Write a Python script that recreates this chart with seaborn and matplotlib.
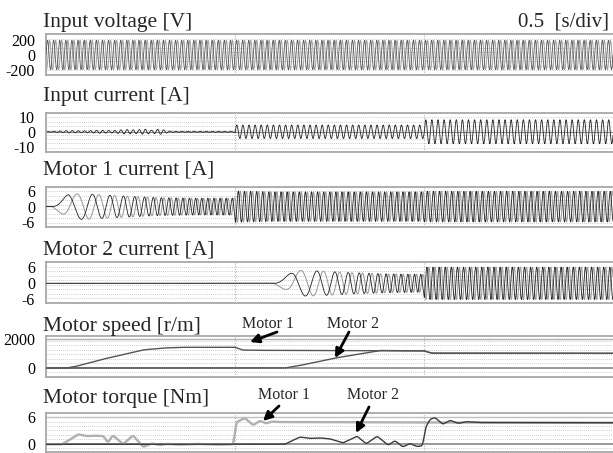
import numpy as np
import pandas as pd
import matplotlib
matplotlib.use("Agg")
import matplotlib.pyplot as plt
import seaborn as sns

sns.set_theme(style="white")
plt.rcParams["font.family"] = ["Liberation Serif", "DejaVu Serif"]

W, H = 613, 453
T_END = 1.5          # 3 divisions x 0.5 s/div
LINE_HZ = 62.0       # carrier frequency (visual density)

# ---------------- values ----------------
volt_amp = 195.0

cur_t   = [0.0, 0.02, 0.06, 0.10, 0.14, 0.18, 0.21, 0.24, 0.26, 0.28, 0.30, 0.33, 0.499, 0.501, 0.999, 1.001, 1.5]
cur_amp = [0.0, 0.3, 0.8, 0.6, 1.0, 0.8, 1.5, 1.2, 1.8, 1.0, 1.8, 0.3, 0.3, 4.5, 4.5, 8.0, 8.0]

m1_f_t  = [0.016, 0.06, 0.10, 0.15, 0.20, 0.30, 0.40, 1.5]
m1_f_hz = [3.0, 11.0, 16.0, 22.0, 30.0, 48.0, 62.0, 62.0]
m1_a_t  = [0.016, 0.06, 0.10, 0.20, 0.30, 0.40, 0.499, 0.501, 0.53, 0.60, 0.999, 1.001, 1.5]
m1_amp  = [0.0, 5.0, 5.0, 4.2, 3.5, 3.3, 3.3, 6.2, 6.0, 5.8, 5.8, 6.0, 6.0]

m2_f_t  = [0.603, 0.65, 0.69, 0.75, 0.80, 0.90, 1.0, 1.5]
m2_f_hz = [3.0, 10.0, 15.0, 22.0, 32.0, 48.0, 62.0, 62.0]
m2_a_t  = [0.603, 0.66, 0.72, 0.80, 0.90, 0.999, 1.001, 1.5]
m2_amp  = [0.0, 4.8, 4.6, 4.0, 3.5, 3.3, 6.0, 6.0]

spd1_t   = [0.0, 0.053, 0.077, 0.151, 0.257, 0.31, 0.355, 0.50, 0.52, 0.56, 1.0, 1.02, 1.5]
spd1_rpm = [0, 0, 100, 620, 1270, 1400, 1450, 1460, 1260, 1240, 1210, 1040, 1030]
spd2_t   = [0.0, 0.632, 0.672, 0.765, 0.884, 0.937, 1.0, 1.02, 1.5]
spd2_rpm = [0, 0, 180, 700, 1230, 1210, 1210, 1040, 1030]

tq1_t  = [0.0, 0.042, 0.063, 0.085, 0.108, 0.13, 0.153, 0.163, 0.177, 0.204, 0.230, 0.257, 0.28, 0.30, 0.32,
          0.35, 0.40, 0.45, 0.497, 0.502, 0.526, 0.548, 0.566, 0.582, 0.598, 0.62, 0.70, 1.0, 1.5]
tq1_nm = [0.0, 0.0, 1.0, 2.2, 1.8, 1.9, 1.8, 0.3, 2.0, 0.0, 2.0, -0.6, 0.2, -0.2, 0.1,
          -0.1, 0.1, -0.1, 0.0, 4.8, 5.8, 4.2, 5.2, 4.6, 5.0, 4.9, 4.9, 4.8, 4.75]
tq2_t  = [0.0, 0.632, 0.651, 0.672, 0.698, 0.725, 0.751, 0.786, 0.823, 0.847, 0.876, 0.905, 0.923,
          0.944, 0.963, 0.981, 0.997, 1.003, 1.016, 1.029, 1.050, 1.069, 1.090, 1.111, 1.148, 1.5]
tq2_nm = [0.0, 0.0, 0.8, 1.6, 1.3, 1.4, 1.2, 0.3, 1.8, 0.1, 1.8, -0.2, 0.8,
          -0.6, 0.2, -0.5, -0.3, 3.5, 5.5, 5.9, 4.4, 5.3, 4.6, 5.0, 4.8, 4.75]

titles = ["Input voltage [V]", "Input current [A]", "Motor 1 current [A]",
          "Motor 2 current [A]", "Motor speed [r/m]", "Motor torque [Nm]"]
yticks = [[200, 0, -200], [10, 0, -10], [6, 0, -6], [6, 0, -6], [2000, 0], [6, 0]]
ytick_labels = [["200", "0", "-200"], ["10", "0", "-10"], ["6", "0", "-6"],
                ["6", "0", "-6"], ["2000", "0"], ["6", "0"]]

# ---------------- build series ----------------
t = np.linspace(0, T_END, 9000)
dt = t[1] - t[0]

def phase(knots_t, knots_f):
    f = np.interp(t, knots_t, knots_f, left=0.0)
    return 2 * np.pi * np.cumsum(f) * dt

def smooth(y, sec):
    n = max(1, int(sec / dt))
    k = np.ones(n) / n
    pad = np.concatenate([np.full(n, y[0]), y, np.full(n, y[-1])])
    return np.convolve(pad, k, mode="same")[n:-n]

ph_line = 2 * np.pi * LINE_HZ * t
volt_a = volt_amp * np.sin(ph_line)
volt_b = volt_amp * np.sin(ph_line - 2 * np.pi / 3)
in_cur = np.interp(t, cur_t, cur_amp) * np.sin(ph_line - 0.3)

p1 = phase(m1_f_t, m1_f_hz)
a1 = np.interp(t, m1_a_t, m1_amp, left=0.0)
m1a = a1 * np.sin(p1)
m1b = a1 * np.sin(p1 - 2 * np.pi / 3)
p2 = phase(m2_f_t, m2_f_hz)
a2 = np.interp(t, m2_a_t, m2_amp, left=0.0)
m2a = a2 * np.sin(p2)
m2b = a2 * np.sin(p2 - 2 * np.pi / 3)

sp1 = smooth(np.interp(t, spd1_t, spd1_rpm), 0.01)
sp2 = smooth(np.interp(t, spd2_t, spd2_rpm), 0.01)
tq1 = smooth(np.interp(t, tq1_t, tq1_nm), 0.009)
tq2 = smooth(np.interp(t, tq2_t, tq2_nm), 0.009)

# ---------------- figure ----------------
fig = plt.figure(figsize=(W / 100, H / 100), dpi=100)
fig.patch.set_facecolor("white")

panels_px = [(34, 75), (113, 152), (187, 227), (262, 303), (336, 377), (413, 452)]
ylims = [(-267, 280), (-13.5, 12.5), (-8.0, 7.7), (-7.3, 7.9), (-630, 2245), (-1.7, 6.9)]
title_base = [27, 101, 175, 255, 331, 403]

axes = []
for i, (top, bot) in enumerate(panels_px):
    ax = fig.add_axes([46 / W, 1 - bot / H, 567 / W, (bot - top) / H])
    ax.set_xlim(0, T_END)
    ax.set_ylim(*ylims[i])
    ax.set_yticks(yticks[i])
    ax.set_yticklabels(ytick_labels[i])
    ax.set_yticks(np.linspace(ylims[i][0], ylims[i][1], 10)[1:-1], minor=True)
    ax.set_xticks([0.5, 1.0])
    ax.set_xticklabels([])
    ax.tick_params(axis="both", which="both", length=0, pad=8, labelsize=11.5, colors="black")
    ax.grid(True, which="minor", axis="y", ls=(0, (1, 1.5)), color="#bcbcbc", lw=0.6)
    ax.grid(True, which="major", axis="x", ls=(0, (1, 1.5)), color="#b0b0b0", lw=0.8)
    for s in ["top", "bottom", "left"]:
        ax.spines[s].set_color("#a8a8a8")
        ax.spines[s].set_linewidth(1.3)
    ax.spines["right"].set_visible(False)
    ax.set_facecolor("white")
    fig.text(43 / W, 1 - title_base[i] / H, titles[i], fontsize=15.5, va="baseline", ha="left")
    axes.append(ax)

fig.text(609 / W, 1 - 26 / H, "0.5  [s/div]", fontsize=15, va="baseline", ha="right")

def line(ax, y, color, lw, z=2):
    sns.lineplot(x=t, y=y, ax=ax, color=color, lw=lw, estimator=None, sort=False, zorder=z)

line(axes[0], volt_b, "#a0a0a0", 0.7)
line(axes[0], volt_a, "#585858", 0.6, 3)
axes[1].axhline(0, color="#888888", lw=0.8, zorder=1)
line(axes[1], in_cur, "#222222", 0.6)
line(axes[2], m1b, "#9c9c9c", 0.75)
line(axes[2], m1a, "#202020", 0.6, 3)
line(axes[3], m2b, "#9c9c9c", 0.75)
line(axes[3], m2a, "#202020", 0.6, 3)

for ax in axes[4:]:
    ax.axhline(0, color="#8a8a8a", lw=1.2, zorder=1)
axes[4].axhline(2000, color="#b0b0b0", lw=1.0, zorder=1)
axes[5].axhline(6, color="#c0c0c0", lw=1.0, zorder=1)
line(axes[4], sp2, "#555555", 1.0)
line(axes[4], sp1, "#555555", 1.0, 3)
line(axes[5], tq1, "#b0b0b0", 1.7)
line(axes[5], tq2, "#3a3a3a", 1.0, 3)

for ax in axes:
    leg = ax.get_legend()
    if leg is not None:
        leg.remove()
    ax.set_xlabel("")
    ax.set_ylabel("")

# annotations (figure pixel positions)
ann = [("Motor 1", 242, 328, (277, 332), (250, 342)),
       ("Motor 2", 327, 328, (349, 332), (335, 358)),
       ("Motor 1", 258, 399, (279, 406), (263, 421)),
       ("Motor 2", 347, 399, (369, 407), (356, 433))]
for txt, tx, ty, tail, head in ann:
    fig.text(tx / W, 1 - ty / H, txt, fontsize=11.5, va="baseline", ha="left")
    axes[5].annotate("", xy=(head[0], H - head[1]), xycoords="figure pixels",
                     xytext=(tail[0], H - tail[1]), textcoords="figure pixels",
                     arrowprops=dict(arrowstyle="-|>", color="black", lw=2.0,
                                     mutation_scale=13, shrinkA=0, shrinkB=0),
                     annotation_clip=False)

fig.savefig("out.png", dpi=100, facecolor="white")
